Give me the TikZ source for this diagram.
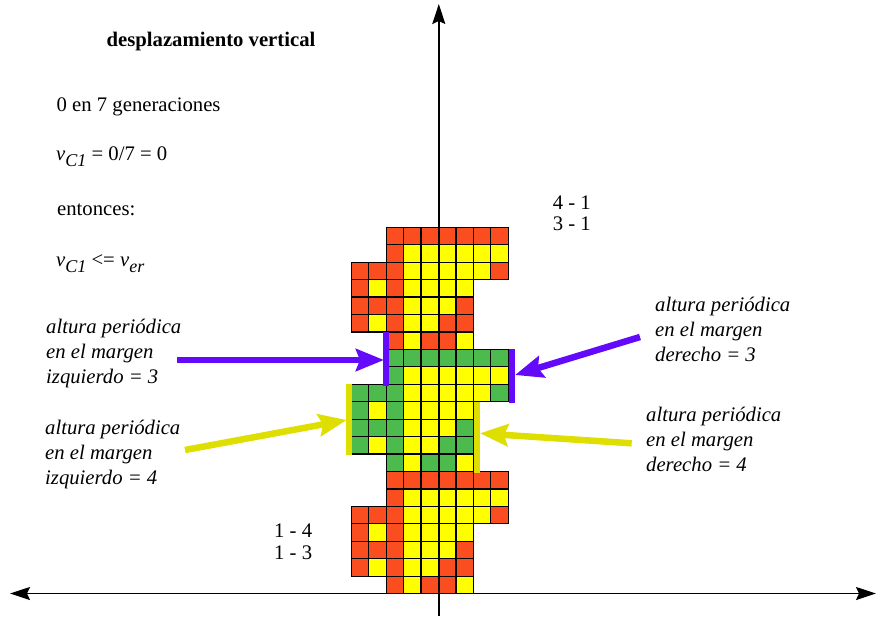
\documentclass[tikz,border=0pt]{standalone}
\usepackage{fontspec}
\setmainfont{Liberation Serif}
\usetikzlibrary{arrows.meta}

\definecolor{cellred}{RGB}{250,78,32}
\definecolor{cellyellow}{RGB}{255,255,0}
\definecolor{cellgreen}{RGB}{76,186,76}
\definecolor{markpurple}{RGB}{100,10,250}
\definecolor{markyellow}{RGB}{222,222,0}

% lowered italic subscript, as in v_{C1}
\newcommand\lowsub[1]{\raisebox{-0.32em}{\fontsize{18}{18}\selectfont\itshape #1}}

\tikzset{
  axtip/.tip={Stealth[length=20pt,width=13pt,inset=3pt]},
  pointtip/.tip={Stealth[length=28pt,width=22pt,inset=4pt]}
}

\begin{document}
\begin{tikzpicture}[x=1pt,y=-1pt,
  txt/.style={inner sep=0pt, font=\fontsize{20.7}{23.7}\selectfont},
  lbl/.style={inner sep=0pt, font=\fontsize{20.7}{25}\selectfont\itshape,
              align=left, anchor=base west},
  cell/.style={draw=black, line width=1.2pt},
  cB/.style={cell, fill=blockcol},
  cY/.style={cell, fill=cellyellow},
  cE/.style={},
  axis/.style={line width=1.6pt},
  bar/.style={line width=6pt},
  pointer/.style={line width=6.5pt, -pointtip}]

\useasboundingbox (0,0) rectangle (878,616);

% ---- cell pattern: three stacked periods of seven rows ----
\def\s{17.44}
\foreach \bc [count=\b from 0] in {cellred,cellgreen,cellred} {
  \colorlet{blockcol}{\bc}
  \foreach \row [count=\j from 0] in {
      {E,E,B,B,B,B,B,B,B},
      {E,E,B,Y,Y,Y,Y,Y,Y},
      {B,B,B,Y,Y,Y,Y,Y,B},
      {B,Y,B,Y,Y,Y,Y,E,E},
      {B,B,B,Y,Y,Y,B,E,E},
      {B,Y,B,Y,Y,B,B,E,E},
      {E,E,B,Y,B,B,Y,E,E}} {
    \foreach \c [count=\i from 0] in \row {
      \path[c\c] ({351.3+\i*\s},{227.3+(\b*7+\j)*\s}) rectangle ++(\s,\s);
    }
  }
}

% ---- axes ----
\coordinate (xl) at (10,593.5);
\coordinate (xr) at (876,593.5);
\coordinate (yb) at (438.8,616);
\coordinate (yt) at (438.8,4);
\draw[axis, axtip-axtip] (xl) -- (xr);
\draw[axis, -axtip] (yb) -- (yt);

% ---- margin markers ----
\draw[bar, markpurple] (386.3,331.7) -- (386.3,385.7);
\draw[bar, markpurple] (511.7,349.3) -- (511.7,403.3);
\draw[bar, markyellow] (349.3,384) -- (349.3,455.3);
\draw[bar, markyellow] (476.7,401.7) -- (476.7,472.7);

% ---- texts (multi-line nodes sit on the baseline of their last line) ----
\node[txt, font=\fontsize{20.7}{23.7}\selectfont\bfseries, anchor=base] (title)
  at (211,46.5) {desplazamiento vertical};
\node[txt, anchor=base west] (gen) at (56.5,111.5) {0 en 7 generaciones};
\node[txt, anchor=base west] (vel) at (56,160)
  {\textit{v}\lowsub{C1} = 0/7 = 0};
\node[txt, anchor=base west] (ent) at (57,215) {entonces:};
\node[txt, anchor=base west] (cmp) at (56,266)
  {\textit{v}\lowsub{C1} <= \textit{v}\lowsub{er}};

\node[txt, anchor=base west, align=center] (pairR) at (552.7,230)
  {4 - 1\\[-3.2pt]3 - 1};
\node[txt, anchor=base west, align=center] (pairL) at (274,559.5)
  {1 - 4\\[-1.5pt]1 - 3};

\node[lbl] (lblLP) at (46,383.3) {altura periódica\\en el margen\\izquierdo = 3};
\node[lbl] (lblLY) at (45,484) {altura periódica\\en el margen\\izquierdo = 4};
\node[lbl] (lblRP) at (655,361.7) {altura periódica\\en el margen\\derecho = 3};
\node[lbl] (lblRY) at (646,471.7) {altura periódica\\en el margen\\derecho = 4};

% ---- pointers from the labels to the markers ----
\coordinate (lp-from) at (177.3,360);
\coordinate (lp-to)   at (384,360);
\coordinate (ly-from) at (185,450);
\coordinate (ly-to)   at (346.7,420);
\coordinate (rp-from) at (640,337);
\coordinate (rp-to)   at (515,375);
\coordinate (ry-from) at (631.7,443.3);
\coordinate (ry-to)   at (480,433.3);
\draw[pointer, markpurple] (lp-from) -- (lp-to);
\draw[pointer, markyellow] (ly-from) -- (ly-to);
\draw[pointer, markpurple] (rp-from) -- (rp-to);
\draw[pointer, markyellow] (ry-from) -- (ry-to);

\end{tikzpicture}
\end{document}
